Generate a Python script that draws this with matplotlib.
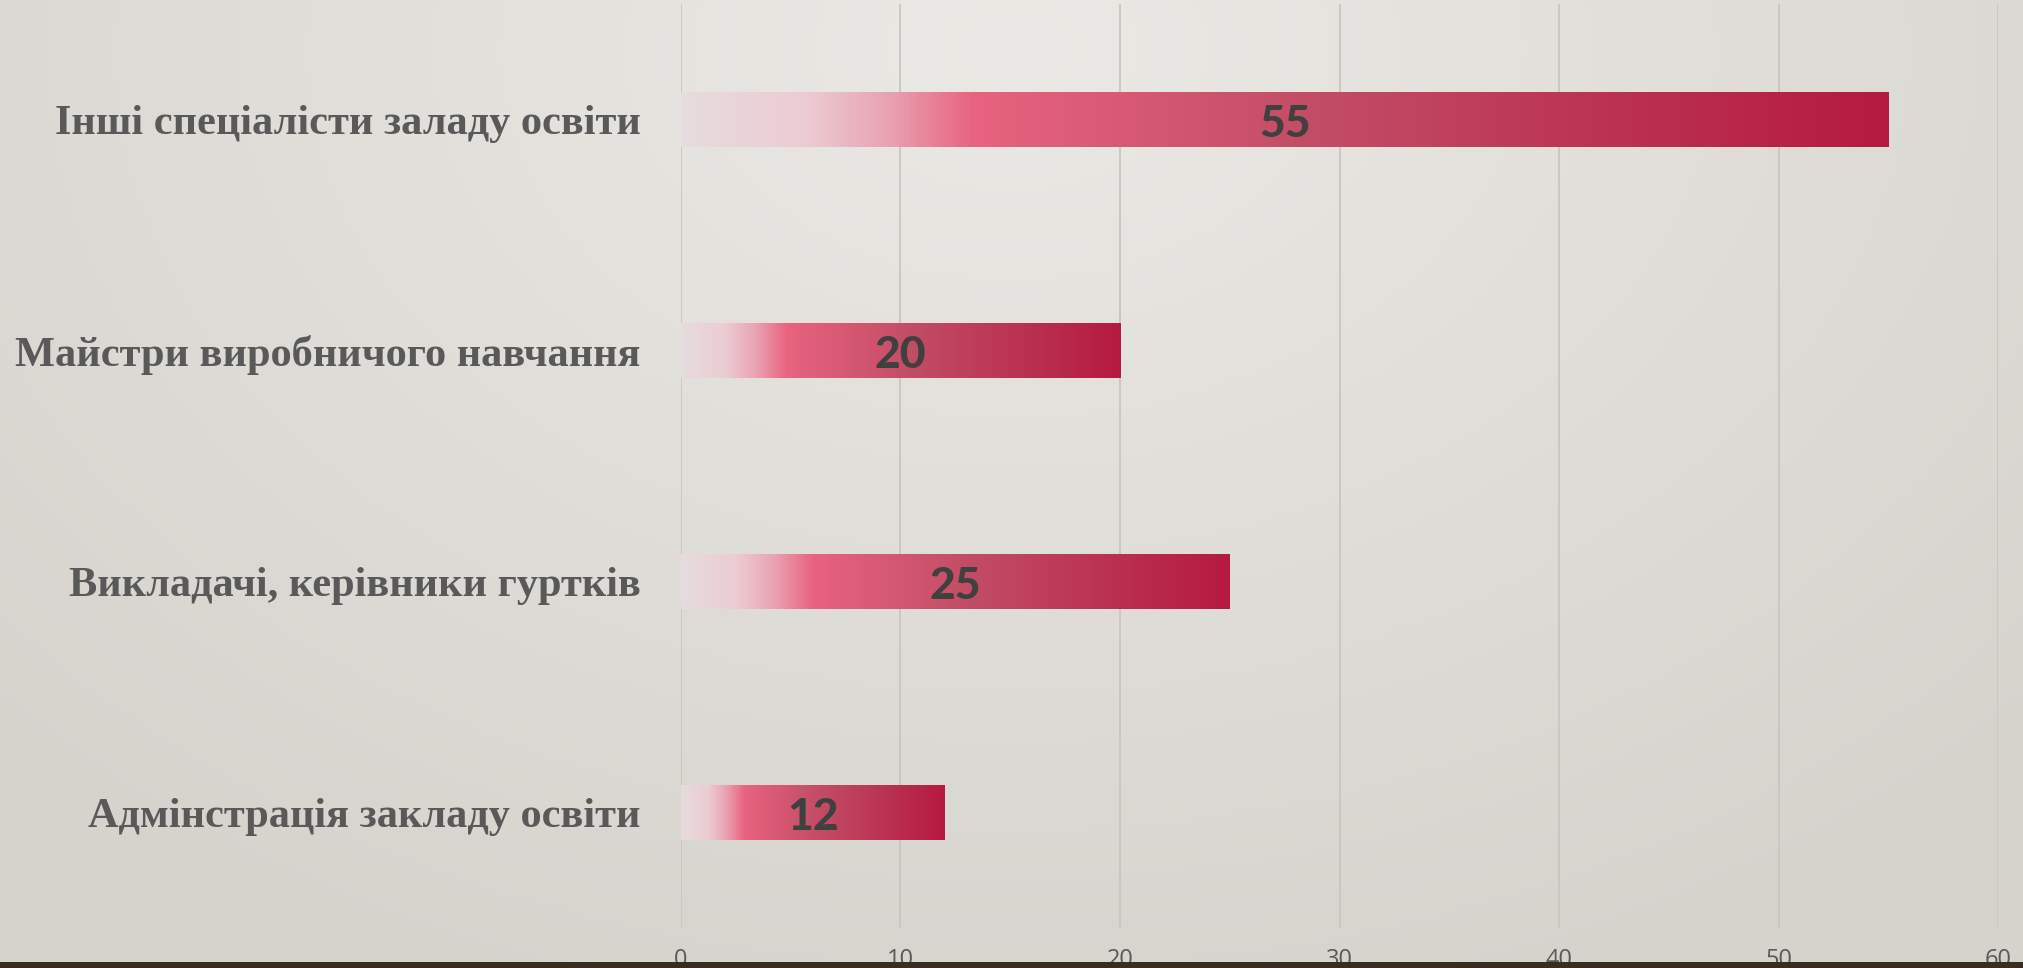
# %% Libs:
import numpy as np
import matplotlib.pyplot as plt
from matplotlib.colors import LinearSegmentedColormap, to_rgb
from matplotlib.patches import Rectangle

# %% Data:
categories = ['Адмінстрація закладу освіти',
              'Викладачі, керівники гуртків',
              'Майстри виробничого навчання',
              'Інші спеціалісти заладу освіти']
values = [12, 25, 20, 55]
xticks = [0, 10, 20, 30, 40, 50, 60]

# %% Style:
label_color = '#595959'
value_color = '#404040'
grid_color = '#c9c6c1'
bar_height = 0.235

# bar gradient (fraction of bar length -> colour)
bar_cmap = LinearSegmentedColormap.from_list('bar', [
    (0.00, '#e6dcdd'),
    (0.10, '#ecccd3'),
    (0.17, '#e9a2b2'),
    (0.24, '#e8637f'),
    (0.52, '#c34d66'),
    (0.80, '#ba2f50'),
    (1.00, '#b51a40')])

# %% Figure:
fig = plt.figure(figsize=(20.23, 9.68), dpi=100)

# background
bg = fig.add_axes([0, 0, 1, 1], zorder=0)
bg.axis('off')
yy, xx = np.mgrid[0:1:200j, 0:1:400j]
d = np.sqrt(((xx - 0.5) / 1.0) ** 2 + ((yy - 0.05) / 1.5) ** 2)
d = np.clip(d / 0.7, 0, 1)
c_light = np.array(to_rgb('#ebe9e5'))
c_dark = np.array(to_rgb('#d6d3cd'))
img = c_light[None, None, :] * (1 - d[..., None]) + c_dark[None, None, :] * d[..., None]
bg.imshow(img, extent=[0, 1, 0, 1], aspect='auto', origin='upper')
bg.set_xlim(0, 1)
bg.set_ylim(0, 1)

ax = fig.add_axes([0.3366, 0.041, 0.6511, 0.955], zorder=1)
ax.set_facecolor('none')

grad = np.linspace(0, 1, 256).reshape(1, -1)
for i, (cat, v) in enumerate(zip(categories, values)):
    ax.imshow(grad, cmap=bar_cmap, aspect='auto', interpolation='bilinear',
              extent=[0, v, i - bar_height / 2, i + bar_height / 2], zorder=3)
    ax.text(v / 2, i - 0.02, str(v), ha='center', va='center', fontsize=32,
            fontweight='black', family='Lato', color=value_color, zorder=4)

ax.set_xlim(0, 60)
ax.set_ylim(-0.5, 3.5)
ax.set_xticks(xticks)
ax.set_yticks(range(len(categories)))
ax.set_yticklabels(categories, family='Liberation Serif', fontweight='bold',
                   fontsize=30.5, color=label_color)
ax.grid(axis='x', color=grid_color, linewidth=1.3, zorder=1)
ax.set_axisbelow(True)
ax.tick_params(axis='y', length=0, pad=29)
ax.tick_params(axis='x', length=0, pad=14, labelsize=17, labelcolor=label_color)
for lab in ax.get_xticklabels():
    lab.set_family('Open Sans')
for s in ax.spines.values():
    s.set_visible(False)

# dark strip at bottom
fig.patches.append(Rectangle((0, 0), 1, 6 / 968, transform=fig.transFigure,
                             facecolor='#3b2c1e', edgecolor='none', zorder=10))

plt.savefig('out.png', dpi=100)
